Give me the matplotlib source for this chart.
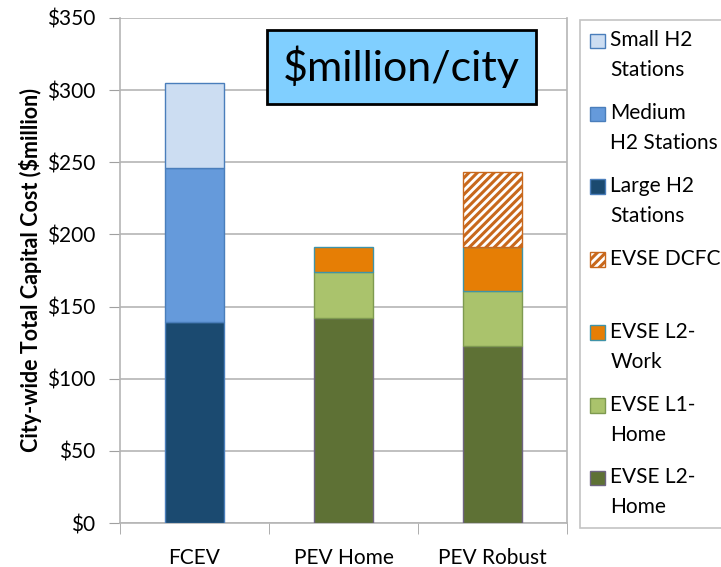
import numpy as np
import matplotlib
matplotlib.use("Agg")
import matplotlib.pyplot as plt
import matplotlib.patches as mpatches
from matplotlib.legend_handler import HandlerPatch

plt.rcParams['font.family'] = ['Lato', 'DejaVu Sans']
plt.rcParams['hatch.linewidth'] = 2.2

# data ($million per city)
scenarios = ['FCEV', 'PEV Home', 'PEV Robust']
large_h2 = [139, 0, 0]
medium_h2 = [107, 0, 0]
small_h2 = [59, 0, 0]
l2_home = [0, 142, 123]
l1_home = [0, 32, 38]
l2_work = [0, 17, 30]
dcfc = [0, 0, 52]

yticks = [0, 50, 100, 150, 200, 250, 300, 350]
ytick_labels = ['$0', '$50', '$100', '$150', '$200', '$250', '$300', '$350']

# stacking order bottom -> top, with styles
layers = [
    ('Large H2\nStations', large_h2, '#1B4A70', '#4A7EBB', None),
    ('Medium\nH2 Stations', medium_h2, '#659ADB', '#4A7EBB', None),
    ('Small H2\nStations', small_h2, '#CCDDF2', '#4A7EBB', None),
    ('EVSE L2-\nHome', l2_home, '#5E7135', '#6E6480', None),
    ('EVSE L1-\nHome', l1_home, '#AAC36C', '#7E9A50', None),
    ('EVSE L2-\nWork', l2_work, '#E67E05', '#3F93A8', None),
    ('EVSE DCFC\n', dcfc, 'white', '#C8681C', '////'),
]

fig = plt.figure(figsize=(7.21, 5.67), dpi=100)
ax = fig.add_axes([0.1664, 0.0776, 0.62, 0.8907])

x = np.arange(len(scenarios))
bottom = np.zeros(len(scenarios))
handles = {}
for label, vals, fc, ec, hatch in layers:
    vals = np.array(vals, dtype=float)
    mask = vals > 0
    bars = ax.bar(x[mask], vals[mask], width=0.4, bottom=bottom[mask],
                  color=fc, edgecolor=ec, linewidth=1.0, hatch=hatch, zorder=3)
    handles[label] = bars.patches[0]
    bottom = bottom + vals

ax.set_xlim(-0.5, 2.5)
ax.set_ylim(0, 350)
ax.set_yticks(yticks)
ax.set_yticklabels(ytick_labels, fontsize=15)
ax.set_xticks(x)
ax.set_xticklabels(scenarios, fontsize=15)
ax.tick_params(axis='x', length=0, pad=18)
ax.set_xticks([-0.5, 0.5, 1.5, 2.5], minor=True)
ax.tick_params(axis='x', which='minor', length=8, color='#A0A0A0', direction='out')
ax.tick_params(axis='y', length=8, color='#A0A0A0', direction='out', pad=10)
ax.grid(axis='y', color='#B5B5B5', linewidth=1.2, zorder=0)
for sp in ax.spines.values():
    sp.set_color('#B5B5B5')
    sp.set_linewidth(1.2)
ax.spines['top'].set_visible(False)

ax.set_ylabel('City-wide Total Capital Cost ($million)', fontsize=15.5,
              fontweight='bold', labelpad=3)

ax.text(0.629, 0.903, '$million/city', transform=ax.transAxes, fontsize=31,
        ha='center', va='center', zorder=5,
        bbox=dict(boxstyle='square,pad=0.37', facecolor='#80CFFF',
                  edgecolor='black', linewidth=2))


def square(legend, orig_handle, xdescent, ydescent, width, height, fontsize):
    return mpatches.Rectangle((-xdescent, -ydescent + 0.72 * fontsize), width, height)


order = ['Small H2\nStations', 'Medium\nH2 Stations', 'Large H2\nStations',
         'EVSE DCFC\n', 'EVSE L2-\nWork', 'EVSE L1-\nHome', 'EVSE L2-\nHome']
leg = fig.legend([handles[k] for k in order], order, loc='upper left',
                 bbox_to_anchor=(580 / 721, 1 - 20 / 567), fontsize=15,
                 frameon=True, fancybox=False, edgecolor='#B5B5B5',
                 handlelength=0.7, handleheight=0.7, handletextpad=0.25,
                 labelspacing=1.1, borderpad=0.5, borderaxespad=0,
                 handler_map={mpatches.Rectangle: HandlerPatch(patch_func=square)})
leg.get_frame().set_linewidth(1.2)
for t in leg.get_texts():
    t.set_linespacing(1.62)

fig.savefig('out.png', dpi=100)
